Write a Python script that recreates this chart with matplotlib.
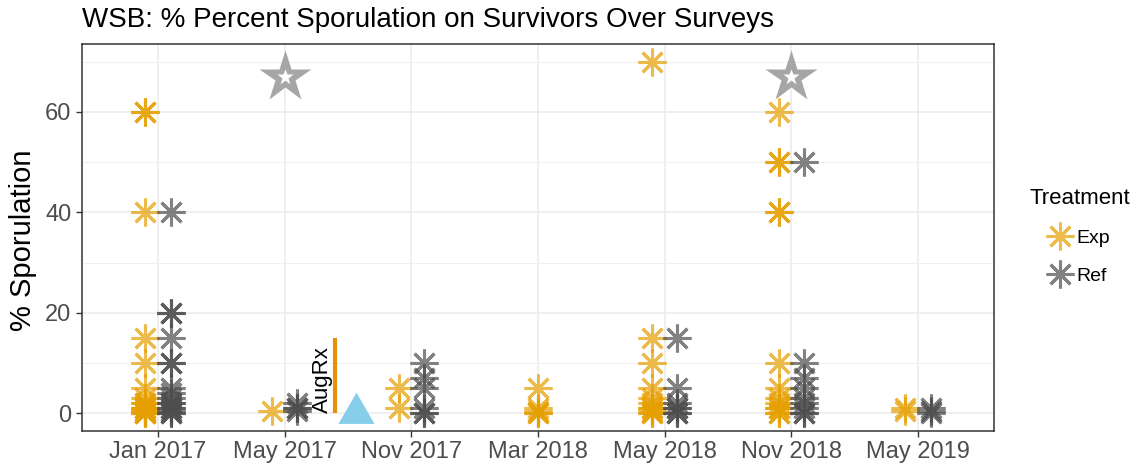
import matplotlib
matplotlib.use("Agg")
import matplotlib.pyplot as plt
from matplotlib.lines import Line2D
from matplotlib.path import Path
import numpy as np

plt.rcParams['font.family'] = ['Liberation Sans', 'DejaVu Sans']

# ---------------- data ----------------
surveys = ['Jan 2017', 'May 2017', 'Nov 2017', 'Mar 2018', 'May 2018', 'Nov 2018', 'May 2019']

exp_jan2017 = [60, 60, 40, 15, 10, 5, 3, 2, 2, 1, 1, 1, 0.5, 0.5, 0, 0, 0]
exp_may2017 = [0.5]
exp_nov2017 = [5, 1]
exp_mar2018 = [5, 1, 0.5, 0, 0]
exp_may2018 = [70, 15, 10, 5, 3, 2, 1, 1, 0.5, 0, 0]
exp_nov2018 = [60, 50, 50, 40, 40, 10, 5, 3, 2, 1, 1, 0, 0]
exp_may2019 = [1, 0.5]

ref_jan2017 = [40, 20, 20, 15, 10, 10, 5, 4, 3, 2, 2, 1, 1, 0.5, 0, 0]
ref_may2017 = [2, 1, 1, 0.5]
ref_nov2017 = [10, 7, 5, 1, 0, 0]
ref_mar2018 = []
ref_may2018 = [15, 5, 2, 1, 1, 0, 0]
ref_nov2018 = [50, 10, 7, 5, 3, 2, 1, 0, 0]
ref_may2019 = [1, 0.5, 0]

exp_values = [exp_jan2017, exp_may2017, exp_nov2017, exp_mar2018,
              exp_may2018, exp_nov2018, exp_may2019]
ref_values = [ref_jan2017, ref_may2017, ref_nov2017, ref_mar2018,
              ref_may2018, ref_nov2018, ref_may2019]

star_surveys = ['May 2017', 'Nov 2018']
star_values = [67, 67]

augrx_pos = 1.40      # position between May 2017 and Nov 2017 (category units)
augrx_top = 15
augrx_label_pos = 1.30
triangle_pos = 1.56
triangle_value = 0

treatments = ['Exp', 'Ref']
colors = {'Exp': '#E69F00', 'Ref': '#4D4D4D'}

# ---------------- figure ----------------
W, H = 1141, 469
fig = plt.figure(figsize=(W / 100, H / 100), dpi=100)
ax = fig.add_axes([82 / W, (H - 431) / H, 912 / W, 387 / H])

ax.set_xlim(-0.6, 6.6)
ax.set_ylim(-3.5, 73.5)

asterisk = (8, 2, 0)
dodge = 0.1
for i, s in enumerate(surveys):
    groups = [('Exp', exp_values[i]), ('Ref', ref_values[i])]
    present = [g for g in groups if len(g[1]) > 0]
    n = len(present)
    for k, (name, vals) in enumerate(present):
        off = 0 if n == 1 else (-dodge if k == 0 else dodge)
        ax.plot(np.full(len(vals), i + off), vals, ls='none', marker=asterisk,
                ms=20, mew=2.2, mec=colors[name], mfc='none', alpha=0.7,
                zorder=3 if name == 'Exp' else 4)

# stars
star_x = [surveys.index(s) for s in star_surveys]
ax.plot(star_x, star_values, ls='none', marker='*', ms=39, color='#A6A6A6',
        mec='none', zorder=5)
ax.plot(star_x, star_values, ls='none', marker='*', ms=12, color='white',
        mec='none', zorder=6)

# AugRx annotation
ax.plot([augrx_pos, augrx_pos], [0, augrx_top], color='#E8900A', lw=3, zorder=5,
        solid_capstyle='butt')
ax.text(augrx_label_pos, 0, 'AugRx', rotation=90, ha='center', va='bottom',
        fontsize=16, color='black', zorder=6)

# triangle
tri = Path([(0, 1.1547), (-1, -0.57735), (1, -0.57735), (0, 1.1547)],
           [Path.MOVETO, Path.LINETO, Path.LINETO, Path.CLOSEPOLY])
ax.plot([triangle_pos], [triangle_value], ls='none', marker=tri, ms=30,
        color='#87CEEB', mec='none', zorder=5)

# axes styling
ax.set_xticks(range(len(surveys)))
ax.set_xticklabels(surveys)
ax.set_yticks([0, 20, 40, 60])
ax.set_yticks([10, 30, 50, 70], minor=True)
ax.set_xticks([], minor=True)
ax.grid(which='major', color='#EBEBEB', lw=1.1)
ax.grid(which='minor', axis='y', color='#F0F0F0', lw=0.8)
ax.set_axisbelow(True)
ax.tick_params(which='major', length=4.5, width=1.0, color='#333333',
               labelsize=17, labelcolor='#4D4D4D', pad=3)
ax.tick_params(which='minor', length=0)
for sp in ax.spines.values():
    sp.set_color('#333333')
    sp.set_linewidth(1.1)

fig.text(23 / W, (H - 240) / H, '% Sporulation', rotation=90,
         ha='center', va='center', fontsize=21, color='black')
fig.text(82 / W, (H - 27) / H, 'WSB: % Percent Sporulation on Survivors Over Surveys',
         ha='left', va='baseline', fontsize=20, color='black')

handles = [Line2D([], [], ls='none', marker=asterisk, ms=20, mew=2.2,
                  mec=colors[t], mfc='none', alpha=0.7) for t in treatments]
leg = ax.legend(handles, treatments, title='Treatment', loc='upper left',
                bbox_to_anchor=(1029 / W, (H - 188) / H), bbox_transform=fig.transFigure,
                frameon=False, fontsize=14, title_fontsize=16, alignment='center',
                handlelength=1.2, handletextpad=0.25, labelspacing=1.05,
                borderaxespad=0, borderpad=0)

fig.savefig('out.png', dpi=100)
